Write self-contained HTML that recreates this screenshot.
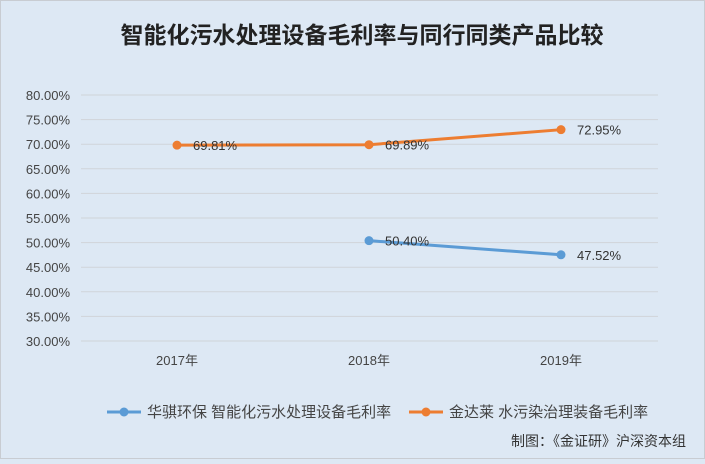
<!DOCTYPE html>
<html><head><meta charset="utf-8"><style>
html,body{margin:0;padding:0;}
body{width:705px;height:459px;overflow:hidden;background:#dde8f4;font-family:"Liberation Sans","Noto Sans CJK SC",sans-serif;}
svg text{font-family:"Liberation Sans","Noto Sans CJK SC",sans-serif;}
</style></head><body>
<svg width="705" height="459">
<rect x="0.5" y="0.5" width="704" height="458" fill="#dde8f4" stroke="#c8ccd2"/>
<text x="362" y="43" text-anchor="middle" font-size="23" font-weight="bold" fill="#222">智能化污水处理设备毛利率与同行同类产品比较</text>
<g id="grid"></g><g id="series"></g>
<g>
<line x1="107" y1="412" x2="141" y2="412" stroke="#5b9bd5" stroke-width="3"/><circle cx="124" cy="412" r="4.5" fill="#5b9bd5"/>
<text x="147" y="417" font-size="15" fill="#444">华骐环保 智能化污水处理设备毛利率</text>
<line x1="409" y1="412" x2="443" y2="412" stroke="#ed7d31" stroke-width="3"/><circle cx="426" cy="412" r="4.5" fill="#ed7d31"/>
<text x="449" y="417" font-size="15" fill="#444">金达莱 水污染治理装备毛利率</text>
</g>
<text x="686" y="446" text-anchor="end" font-size="14" fill="#333">制图：《金证研》沪深资本组</text>
</svg>
<script>
const categories=["2017年","2018年","2019年"];
const yTicks=[30,35,40,45,50,55,60,65,70,75,80];
const huaqi=[null,50.40,47.52];
const jindalai=[69.81,69.89,72.95];
const NS="http://www.w3.org/2000/svg";
const y=v=>341-(v-30)*(246/50);
const x=i=>177+i*192;
function mk(t,a,p){const e=document.createElementNS(NS,t);for(const k in a)e.setAttribute(k,a[k]);p.appendChild(e);return e;}
const g=document.getElementById('grid'),s=document.getElementById('series');
yTicks.forEach(v=>{
 const l=mk('line',{x1:81,x2:658,y1:y(v),y2:y(v),stroke:'#d0d4d9','stroke-width':1},g);
 
 
 const t=mk('text',{x:70,y:y(v)+5,'text-anchor':'end','font-size':13,fill:'#444'},g);
 t.textContent=v.toFixed(2)+'%';
 
 
});
categories.forEach((c,i)=>{
 const t=mk('text',{x:x(i),y:365,'text-anchor':'middle','font-size':13,fill:'#444'},g);
 t.textContent=c;
 
 
});
function series(d,col,name){
 const pts=d.map((v,i)=>v==null?null:[x(i),y(v)]).filter(p=>p);
 const pl=mk('polyline',{points:pts.map(p=>p.join(',')).join(' '),fill:'none',stroke:col,'stroke-width':3},s);
 
 
 d.forEach((v,i)=>{if(v==null)return;
  const c=mk('circle',{cx:x(i),cy:y(v),r:4.5,fill:col},s);
  
  
  const t=mk('text',{x:x(i)+16,y:y(v)+5,'font-size':13,fill:'#333'},s);
  t.textContent=v.toFixed(2)+'%';
  
  
 });
}
series(huaqi,'#5b9bd5','huaqi');
series(jindalai,'#ed7d31','jindalai');
</script>
</body></html>
